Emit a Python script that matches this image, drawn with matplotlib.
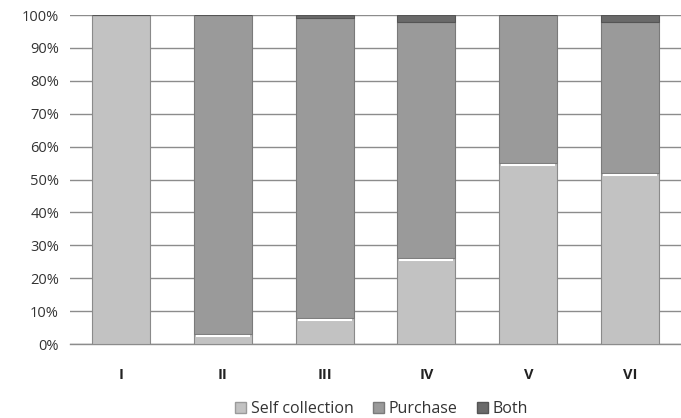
import numpy as np
import matplotlib
matplotlib.use("Agg")
import matplotlib.pyplot as plt
from matplotlib.patches import Patch

# data (percent of respondents)
groups = ["I", "II", "III", "IV", "V", "VI"]
self_collection = [100, 3, 8, 26, 55, 52]
purchase = [0, 97, 91, 72, 45, 46]
both = [0, 0, 1, 2, 0, 2]

col_self = "#c2c2c2"
col_purch = "#9a9a9a"
col_both = "#6a6a6a"

plt.rcParams['font.family'] = ['Open Sans', 'DejaVu Sans']

fig = plt.figure(figsize=(6.81, 4.18), dpi=100)
ax = fig.add_axes([0.103, 0.177, 0.897, 0.787])

x = np.arange(len(groups))
w = 0.57
s = np.array(self_collection)
p = np.array(purchase)
b = np.array(both)

ax.bar(x, s, w, color=col_self, edgecolor="#8a8a8a", linewidth=0.8, zorder=3)
ax.bar(x, p, w, bottom=s, color=col_purch, edgecolor="#7a7a7a", linewidth=0.8, zorder=3)
ax.bar(x, b, w, bottom=s + p, color=col_both, edgecolor="#555555", linewidth=0.8, zorder=3)

# thin white highlight on top of each segment (bevel look)
for xi, lo in zip(x, s):
    if 0 < lo < 100:
        ax.hlines(lo - 0.6, xi - w / 2 + 0.02, xi + w / 2 - 0.02, color="white", lw=1.5, zorder=4)

ax.set_xlim(-0.5, 5.5)
ax.set_ylim(0, 100)
ax.set_yticks(np.arange(0, 101, 10))
ax.set_yticklabels([f"{v}%" for v in range(0, 101, 10)], fontsize=10.5, color="#333333")
ax.set_xticks(x)
ax.set_xticklabels(groups, fontsize=10.5, fontweight="bold", color="#222222")
ax.tick_params(axis="x", length=0, pad=17)
ax.tick_params(axis="y", length=0, pad=8)

ax.yaxis.grid(True, color="#8c8c8c", linewidth=1.0, zorder=0)
ax.set_axisbelow(True)
for side in ["top", "right", "left"]:
    ax.spines[side].set_visible(False)
ax.spines["bottom"].set_color("#8c8c8c")
ax.spines["bottom"].set_linewidth(1.0)

handles = [Patch(facecolor=col_self, edgecolor="#9a9a9a", label="Self collection"),
           Patch(facecolor=col_purch, edgecolor="#7a7a7a", label="Purchase"),
           Patch(facecolor=col_both, edgecolor="#555555", label="Both")]
fig.legend(handles=handles, loc="center", bbox_to_anchor=(0.56, 0.022), ncol=3, frameon=False,
           fontsize=11.5, handlelength=0.7, handleheight=0.7, handletextpad=0.3, columnspacing=1.2,
           labelcolor="#333333")

fig.savefig("out.png", dpi=100)
